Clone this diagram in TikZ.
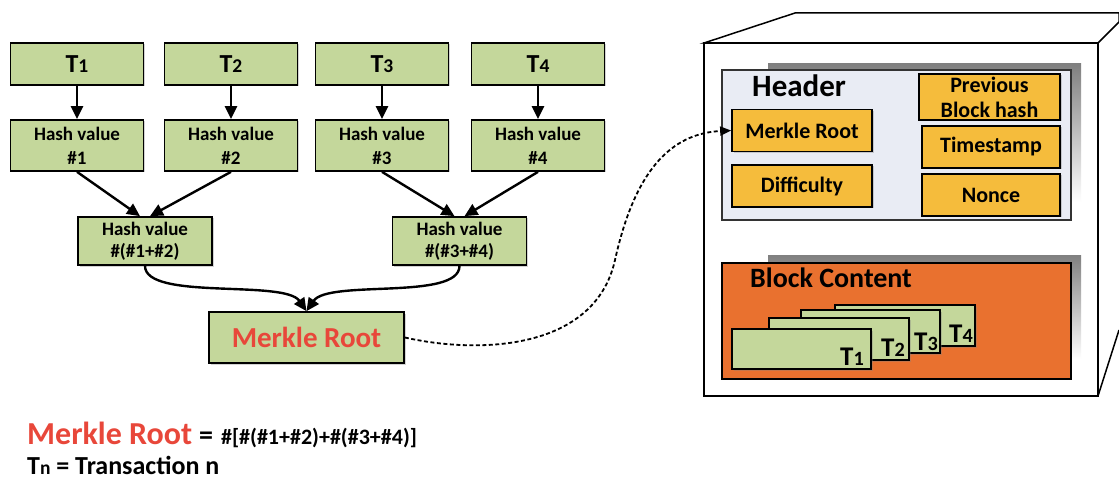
\documentclass[tikz,border=0pt]{standalone}
\usepackage{fontspec}
\usepackage{graphicx}
\setmainfont{Carlito}
\usetikzlibrary{arrows.meta,shadows}

\definecolor{leaf}{HTML}{C4D79B}
\definecolor{gold}{HTML}{F5BC3C}
\definecolor{rust}{HTML}{E9712F}
\definecolor{mred}{HTML}{E8473A}
\definecolor{pale}{HTML}{E9ECF4}
\definecolor{shade}{HTML}{C8C8C8}

\tikzset{
    box/.style={draw=black, line width=1.7pt, inner sep=0pt, align=center,
        drop shadow={shadow xshift=1.5pt, shadow yshift=-1.5pt, opacity=.35}},
    tbox/.style={box, fill=leaf, minimum width=133pt, minimum height=42pt,
        font=\bfseries\fontsize{26}{28}\selectfont},
    hbox/.style={box, fill=leaf, minimum width=133pt, minimum height=51pt,
        font=\bfseries\fontsize{19}{24}\selectfont},
    gbox/.style={box, fill=gold, minimum width=140pt, minimum height=42pt,
        font=\bfseries\fontsize{22}{25}\selectfont},
    card/.style={box, fill=leaf, minimum width=139pt, minimum height=41pt},
    clab/.style={anchor=base east, inner sep=0pt, font=\bfseries\fontsize{27}{29}\selectfont},
    flow/.style={-{Triangle[length=13pt,width=12pt]}, line width=2.4pt},
    dashflow/.style={-{Triangle[length=11pt,width=9pt]}, line width=1.8pt,
        dash pattern=on 4pt off 2.5pt},
    cube/.style={line width=1.5pt}
}

\newcommand{\tn}[1]{T\scalebox{.75}{#1}}

\begin{document}
\begin{tikzpicture}[x=1pt, y=-1pt]
    \useasboundingbox (0,0) rectangle (1119,481);

    % merkle tree
    \node[tbox] (t1) at (77,64) {\tn{1}};
    \node[tbox] (t2) at (231,64) {\tn{2}};
    \node[tbox] (t3) at (382,64) {\tn{3}};
    \node[tbox] (t4) at (538,64) {\tn{4}};

    \node[hbox] (h1) at (77,145.5) {Hash value\\\#1};
    \node[hbox] (h2) at (231,145.5) {Hash value\\\#2};
    \node[hbox] (h3) at (382,145.5) {Hash value\\\#3};
    \node[hbox] (h4) at (538,145.5) {Hash value\\\#4};

    \node[hbox, minimum width=134pt, minimum height=48pt, font=\bfseries\fontsize{19}{22}\selectfont] (h12) at (145,241) {Hash value\\\#(\#1+\#2)};
    \node[hbox, minimum width=134pt, minimum height=48pt, font=\bfseries\fontsize{19}{22}\selectfont] (h34) at (459.5,241) {Hash value\\\#(\#3+\#4)};

    \node[tbox, minimum width=195pt, minimum height=51pt, text=mred,
        font=\bfseries\fontsize{29}{31}\selectfont] (mr) at (306.5,337.5) {Merkle Root};

    \draw[flow] (t1) -- (h1);
    \draw[flow] (t2) -- (h2);
    \draw[flow] (t3) -- (h3);
    \draw[flow] (t4) -- (h4);

    \draw[flow] (h1.south) -- ([xshift=-5pt]h12.north);
    \draw[flow] (h2.south) -- ([xshift=5pt]h12.north);
    \draw[flow] (h3.south) -- ([xshift=-5pt]h34.north);
    \draw[flow] (h4.south) -- ([xshift=5pt]h34.north);

    \draw[flow] (h12.south) .. controls +(0,35) and +(-22,-32) .. (mr.north);
    \draw[flow] (h34.south) .. controls +(0,35) and +(22,-32) .. (mr.north);

    % block
    \draw[cube, fill=white] (704,43) -- (795,13) -- (1119,13) -- (1119,22) -- (1098,43) -- cycle;
    \draw[cube, fill=white] (704,43) rectangle (1098,396);
    \draw[cube] (1098,396) -- (1119,330);

    \fill[shade] (768,64) rectangle (1081,202);
    \draw[line width=1.5pt, draw=black!80, fill=pale] (722,70) rectangle (1071,220);
    \node[anchor=base west, inner sep=0pt, font=\bfseries\fontsize{31}{33}\selectfont] (head) at (752,97) {Header};

    \node[gbox] (hmr) at (802,130.5) {Merkle Root};
    \node[gbox] (diff) at (802,186) {Difficulty};
    \node[gbox, minimum width=141pt, minimum height=46pt] (prev) at (989.5,97) {Previous\\Block hash};
    \node[gbox, minimum width=138pt] (time) at (991,147) {Timestamp};
    \node[gbox, minimum width=138pt] (nonce) at (991,195) {Nonce};

    \fill[shade] (768,255) rectangle (1081,359);
    \draw[line width=1.5pt, fill=rust] (722,263) rectangle (1071,379);
    \node[anchor=base west, inner sep=0pt, font=\bfseries\fontsize{28}{30}\selectfont] (cont) at (750,287) {Block Content};

    \node[card, minimum width=140pt] (c4) at (905,325.5) {};
    \node[card, minimum height=43pt] (c3) at (870.5,331.5) {};
    \node[card, minimum width=140pt, minimum height=42pt] (c2) at (839,339) {};
    \node[card, minimum height=40pt] (c1) at (801.5,349) {};
    \node[clab] (l4) at (973,342) {\tn{4}};
    \node[clab] (l3) at (938,350) {\tn{3}};
    \node[clab] (l2) at (905,356) {\tn{2}};
    \node[clab] (l1) at (864,365) {\tn{1}};

    \coordinate (bend) at (615,260);
    \draw[dashflow] (mr.east) .. controls +(75,17) and +(-20,90) .. (bend)
        .. controls +(20,-90) and +(-60,3) .. (hmr.west);

    % legend
    \node[anchor=base west, inner sep=0pt, font=\bfseries] (eq) at (27,444)
        {{\fontsize{32}{34}\selectfont\color{mred}Merkle Root}\hspace{7pt}{\fontsize{28}{30}\selectfont=}\hspace{8pt}{\fontsize{22}{24}\selectfont\#[\#(\#1+\#2)+\#(\#3+\#4)]}};
    \node[anchor=base west, inner sep=0pt, font=\bfseries\fontsize{26}{28}\selectfont] (key) at (27,474)
        {\tn{n} = Transaction n};
\end{tikzpicture}
\end{document}
